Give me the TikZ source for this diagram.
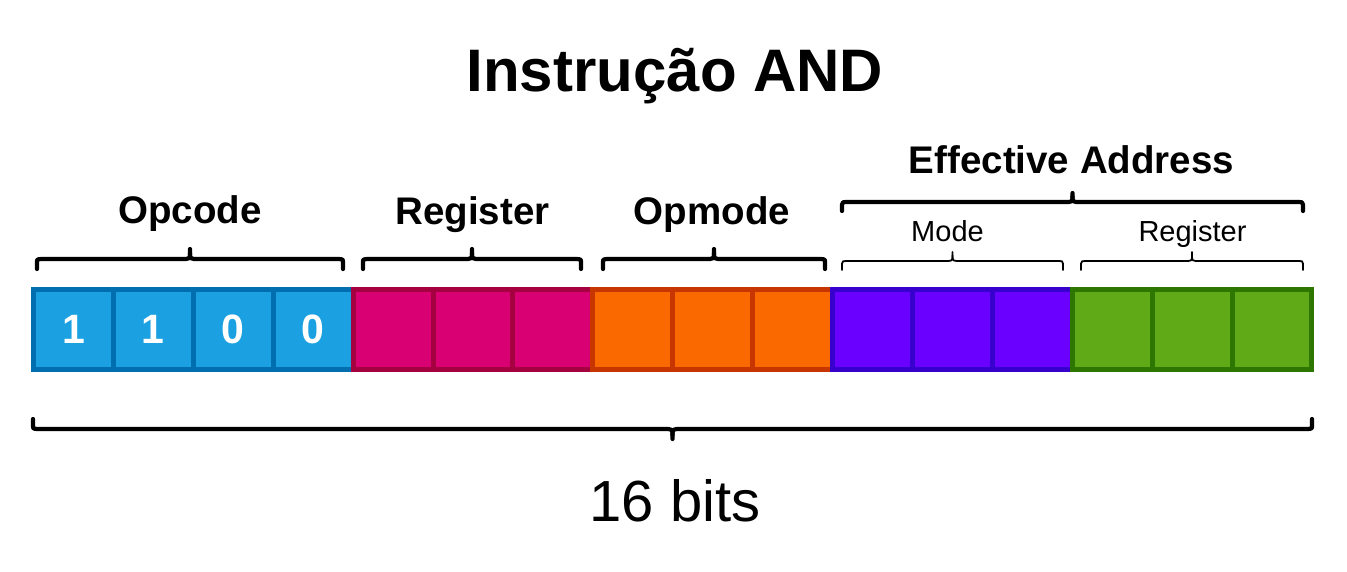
\documentclass[tikz,border=0pt]{standalone}
\usepackage{fontspec}
\setmainfont{Liberation Sans}
\definecolor{bluef}{HTML}{1BA1E2}\definecolor{blues}{HTML}{006EAF}
\definecolor{magf}{HTML}{D80073}\definecolor{mags}{HTML}{A50040}
\definecolor{orf}{HTML}{FA6800}\definecolor{ors}{HTML}{C73500}
\definecolor{vif}{HTML}{6A00FF}\definecolor{vis}{HTML}{3700CC}
\definecolor{grf}{HTML}{60A917}\definecolor{grs}{HTML}{2D7600}
\tikzset{
  cell/.style 2 args={draw=#2, fill=#1, line width=5pt, minimum width=79.9pt,
    minimum height=80pt, inner sep=0pt, text=white,
    font=\fontsize{41}{41}\selectfont\bfseries},
  lbl/.style={anchor=base, inner sep=0pt, font=\fontsize{38.5}{38.5}\selectfont\bfseries},
  sublbl/.style={anchor=base, inner sep=0pt, font=\fontsize{29}{29}\selectfont},
  bigbrace/.style={line width=4.2pt, line cap=round, line join=round},
  smallbrace/.style={line width=1.8pt, line cap=round, line join=round},
}
% #1 x1, #2 x2, #3 line y, #4 end offset (positive: ends down, tip up), #5 style
\newcommand\mybrc[5]{%
  \draw[#5] (#1,{#3+(#4)}) -- (#1,{#3+0.3*(#4)})
    .. controls (#1,#3) .. ({#1+0.9*abs(#4)},#3)
    -- ({(#1+#2)/2-0.9*abs(#4)},#3)
    .. controls ({(#1+#2)/2},#3) .. ({(#1+#2)/2},{#3-0.6*(#4)})
    -- ({(#1+#2)/2},{#3-(#4)});
  \draw[#5] (#2,{#3+(#4)}) -- (#2,{#3+0.3*(#4)})
    .. controls (#2,#3) .. ({#2-0.9*abs(#4)},#3)
    -- ({(#1+#2)/2+0.9*abs(#4)},#3)
    .. controls ({(#1+#2)/2},#3) .. ({(#1+#2)/2},{#3-0.6*(#4)});
}
\begin{document}
\begin{tikzpicture}[x=1pt,y=-1pt]
\useasboundingbox (0,0) rectangle (1347,571);
\fill[white] (0,0) rectangle (1347,571);

% title
\node[anchor=base, inner sep=0pt, font=\fontsize{60}{60}\selectfont\bfseries] (title) at (675,91) {Instrução AND};

% cells
\node[cell={bluef}{blues}] (c1)  at (73.45,329.5) {1};
\node[cell={bluef}{blues}] (c2)  at (153.35,329.5) {1};
\node[cell={bluef}{blues}] (c3)  at (233.25,329.5) {0};
\node[cell={bluef}{blues}] (c4)  at (313.15,329.5) {0};
\node[cell={magf}{mags}]   (c5)  at (393.05,329.5) {};
\node[cell={magf}{mags}]   (c6)  at (472.95,329.5) {};
\node[cell={magf}{mags}]   (c7)  at (552.85,329.5) {};
\node[cell={orf}{ors}]     (c8)  at (632.75,329.5) {};
\node[cell={orf}{ors}]     (c9)  at (712.65,329.5) {};
\node[cell={orf}{ors}]     (c10) at (792.55,329.5) {};
\node[cell={vif}{vis}]     (c11) at (872.45,329.5) {};
\node[cell={vif}{vis}]     (c12) at (952.35,329.5) {};
\node[cell={vif}{vis}]     (c13) at (1032.25,329.5) {};
\node[cell={grf}{grs}]     (c14) at (1112.15,329.5) {};
\node[cell={grf}{grs}]     (c15) at (1192.05,329.5) {};
\node[cell={grf}{grs}]     (c16) at (1271.95,329.5) {};

% field labels
\node[lbl] (opcode) at (190,223) {Opcode};
\node[lbl] (reg) at (472.5,224) {Register};
\node[lbl] (opmode) at (712,224) {Opmode};
\node[lbl] (ea) at (1071.5,173) {Effective Address};
\node[sublbl] (mode) at (947.5,241) {Mode};
\node[sublbl] (eareg) at (1192.5,241) {Register};
\node[anchor=base, inner sep=0pt, font=\fontsize{58}{58}\selectfont] (bits) at (675,521) {16 bits};

% braces
\mybrc{37}{343}{259}{10}{bigbrace}
\mybrc{363}{581}{259}{10}{bigbrace}
\mybrc{603}{825}{259}{10}{bigbrace}
\mybrc{842}{1303}{202}{9}{bigbrace}
\mybrc{842}{1063}{261}{9}{smallbrace}
\mybrc{1081}{1303}{261}{9}{smallbrace}
\mybrc{33}{1312}{429}{-10}{bigbrace}
\end{tikzpicture}
\end{document}
